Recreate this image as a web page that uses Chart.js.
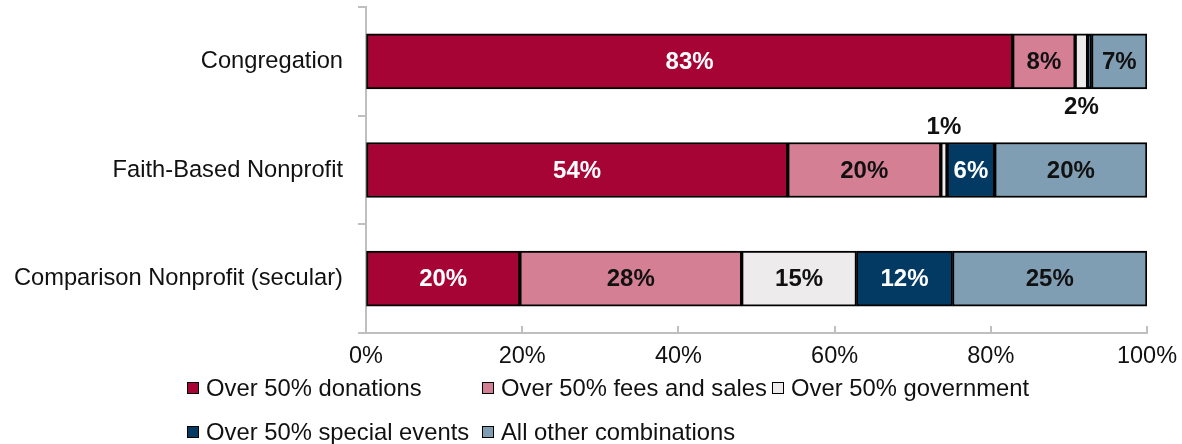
<!DOCTYPE html>
<html>
<head>
<meta charset="utf-8">
<script src="https://cdn.jsdelivr.net/npm/chart.js@4/dist/chart.umd.min.js"></script>
<style>
  html, body { margin: 0; padding: 0; background: #fff; }
  #wrap { position: relative; width: 1182px; height: 444px; }
  #chart { position: absolute; left: 0; top: 0; }
  .lg { position: absolute; display: flex; align-items: center; white-space: nowrap;
        font-family: "Liberation Sans", Arial, sans-serif; font-size: 23.8px; color: #111; }
  .lg i { display: inline-block; width: 10px; height: 10px; border: 1.5px solid #000; margin-right: 7px; }
</style>
</head>
<body>
<div id="wrap">
  <canvas id="chart" width="1182" height="444"></canvas>
  <div id="legend"></div>
</div>
<script>
// Funding-source mix by organisation type (share of organisations, %)
const categories = ['Congregation', 'Faith-Based Nonprofit', 'Comparison Nonprofit (secular)'];
const seriesNames = ['Over 50% donations', 'Over 50% fees and sales', 'Over 50% government',
                     'Over 50% special events', 'All other combinations'];
const donations    = [82.8, 54.0, 19.7];
const feesAndSales = [8.0, 19.6, 28.4];
const government   = [1.6, 0.8, 14.7];
const specialEvents = [0.5, 6.1, 12.3];
const otherCombos  = [7.1, 19.5, 24.9];
const xTicks = [0, 20, 40, 60, 80, 100];

const seriesValues = [donations, feesAndSales, government, specialEvents, otherCombos];
const fills = ['#A50434', '#D57F95', '#EDEBEC', '#023A64', '#7F9DB3'];
const labelInk = ['#ffffff', '#111111', '#111111', '#ffffff', '#111111'];
// where each value label goes: 'in' centred, 'below'/'above' the bar, null = none
const labelPlace = [
  ['in', 'in', 'in'],
  ['in', 'in', 'in'],
  ['below', 'above', 'in'],
  [null, 'in', 'in'],
  ['in', 'in', 'in']
];

const FONT = '"Liberation Sans", Arial, sans-serif';
const AXIS = '#BFBFBF';

const valueLabels = {
  id: 'valueLabels',
  afterDatasetsDraw(chart) {
    const ctx = chart.ctx;
    ctx.save();
    ctx.font = 'bold 24px ' + FONT;
    ctx.textAlign = 'center';
    ctx.textBaseline = 'middle';
    chart.data.datasets.forEach((ds, di) => {
      const meta = chart.getDatasetMeta(di);
      meta.data.forEach((bar, i) => {
        const place = labelPlace[di][i];
        if (!place) return;
        const p = bar.getProps(['x', 'y', 'base', 'height'], true);
        const cx = (p.x + p.base) / 2;
        let cy = p.y;
        let ink = labelInk[di];
        if (place === 'below') { cy = p.y + p.height / 2 + 18; ink = '#111111'; }
        if (place === 'above') { cy = p.y - p.height / 2 - 16; ink = '#111111'; }
        ctx.fillStyle = ink;
        ctx.fillText(Math.round(ds.data[i]) + '%', cx, cy + 1);
      });
    });
    ctx.restore();
  }
};

// short tick marks rising from the value axis
const innerTicks = {
  id: 'innerTicks',
  afterDraw(chart) {
    const x = chart.scales.x, ctx = chart.ctx;
    ctx.save();
    ctx.strokeStyle = AXIS;
    ctx.lineWidth = 2;
    xTicks.forEach(v => {
      const px = Math.round(x.getPixelForValue(v));
      ctx.beginPath();
      ctx.moveTo(px, x.top);
      ctx.lineTo(px, x.top - 7);
      ctx.stroke();
    });
    ctx.restore();
  }
};

new Chart(document.getElementById('chart'), {
  type: 'bar',
  data: {
    labels: categories,
    datasets: seriesValues.map((vals, k) => ({
      label: seriesNames[k],
      data: vals,
      backgroundColor: fills[k],
      borderColor: '#000',
      borderWidth: 2,
      borderSkipped: false,
      barThickness: 55
    }))
  },
  options: {
    indexAxis: 'y',
    responsive: false,
    animation: false,
    devicePixelRatio: 1,
    layout: { padding: { top: 7, right: 35, left: 0, bottom: 71 } },
    plugins: { legend: { display: false }, tooltip: { enabled: false } },
    scales: {
      x: {
        stacked: true, min: 0, max: 100,
        afterBuildTicks(s) { s.ticks = xTicks.map(v => ({ value: v })); },
        afterFit(s) { s.height = 40; s.paddingLeft = 0; s.paddingRight = 0; },
        grid: { drawOnChartArea: false, drawTicks: false },
        border: { color: AXIS, width: 2 },
        ticks: { callback: v => v + '%', padding: 9, color: '#111', maxRotation: 0,
                 font: { family: FONT, size: 23.5 } }
      },
      y: {
        stacked: true,
        afterFit(s) { s.width = 366; s.paddingTop = 0; s.paddingBottom = 0; },
        grid: { drawOnChartArea: false, drawTicks: true, tickLength: 8, color: AXIS, lineWidth: 2, offset: true },
        border: { color: AXIS, width: 2 },
        ticks: { padding: 15, color: '#111', font: { family: FONT, size: 23.7 } }
      }
    }
  },
  plugins: [valueLabels, innerTicks]
});

// two-row legend with fixed columns
const legendSlots = [[187, 388], [482, 388], [772, 388], [187, 432], [482, 432]];
const legend = document.getElementById('legend');
seriesNames.forEach((name, k) => {
  const item = document.createElement('div');
  item.className = 'lg';
  item.style.left = legendSlots[k][0] + 'px';
  item.style.top = (legendSlots[k][1] - 14) + 'px';
  item.style.height = '28px';
  const box = document.createElement('i');
  box.style.background = fills[k];
  item.appendChild(box);
  item.appendChild(document.createTextNode(name));
  legend.appendChild(item);
});
</script>
</body>
</html>
